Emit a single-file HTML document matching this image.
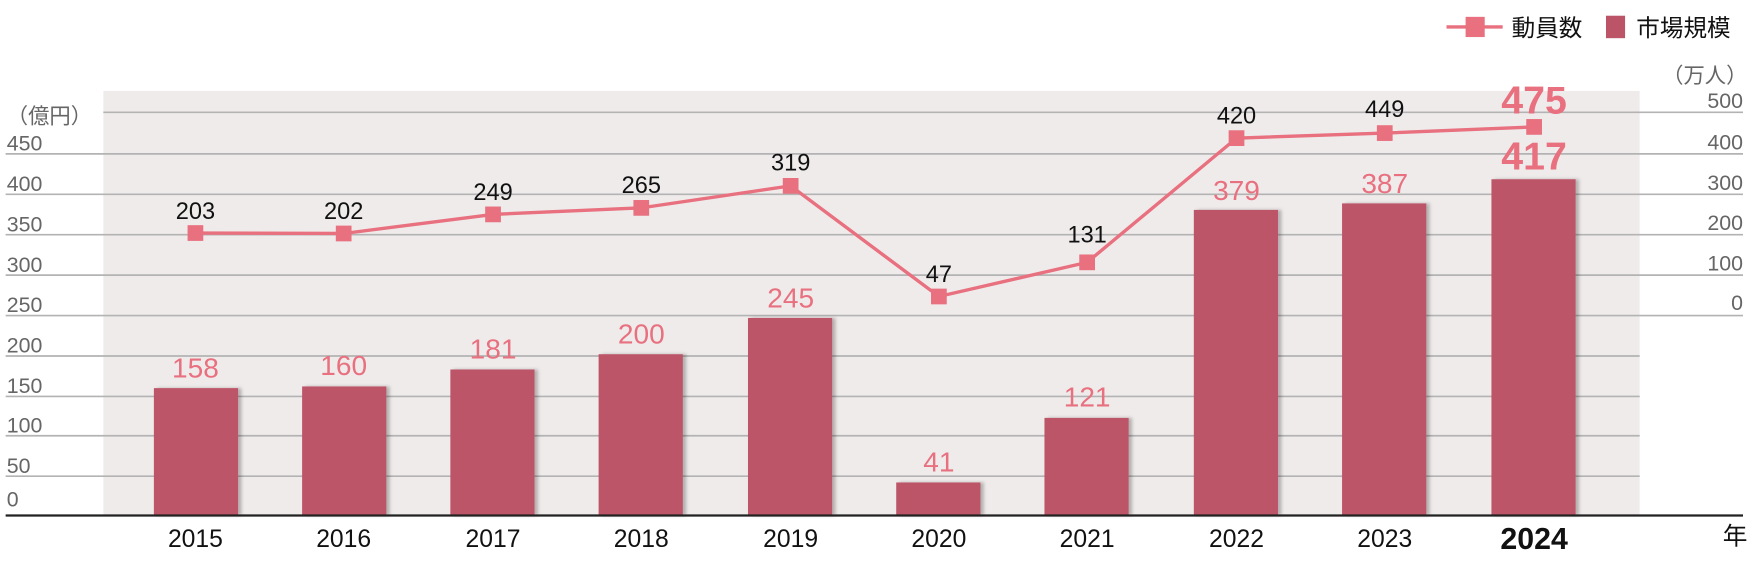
<!DOCTYPE html>
<html><head><meta charset="utf-8"><style>
html,body{margin:0;padding:0;background:#fff;}
svg{display:block}
text{font-family:"Liberation Sans","Noto Sans CJK JP",sans-serif;}
</style></head><body>
<svg width="1752" height="564" viewBox="0 0 1560 502.2" xmlns="http://www.w3.org/2000/svg">
<defs><filter id="sh" x="-10%" y="-10%" width="130%" height="120%"><feDropShadow dx="3" dy="0" stdDeviation="1.5" flood-color="#000" flood-opacity="0.25"/></filter></defs>
<rect x="92" y="81" width="1368" height="378" fill="#efebeb"/>
<g stroke="#b3b3b3" stroke-width="1.5">
<line x1="92" y1="100" x2="1552" y2="100"/>
<line x1="5" y1="137" x2="1552" y2="137"/>
<line x1="5" y1="173" x2="1552" y2="173"/>
<line x1="5" y1="209" x2="1552" y2="209"/>
<line x1="5" y1="245" x2="1552" y2="245"/>
<line x1="5" y1="281" x2="1552" y2="281"/>
<line x1="5" y1="317" x2="1460" y2="317"/>
<line x1="5" y1="353" x2="1460" y2="353"/>
<line x1="5" y1="388" x2="1460" y2="388"/>
<line x1="5" y1="424" x2="1460" y2="424"/>
</g>
<g fill="#666" font-size="19">
<text x="6" y="110">（億円）</text>
<text x="6" y="134">450</text><text x="6" y="170">400</text><text x="6" y="206">350</text><text x="6" y="242">300</text><text x="6" y="278">250</text><text x="6" y="314">200</text><text x="6" y="350">150</text><text x="6" y="385">100</text><text x="6" y="421">50</text><text x="6" y="451">0</text>
<g text-anchor="end"><text x="1556" y="74">（万人）</text>
<text x="1552" y="96">500</text><text x="1552" y="133">400</text><text x="1552" y="169">300</text><text x="1552" y="205">200</text><text x="1552" y="241">100</text><text x="1552" y="276">0</text></g>
</g>
<g fill="#bc5467" filter="url(#sh)">
<rect x="137" y="345.6" width="75" height="113.4"/>
<rect x="269" y="344.1" width="75" height="114.9"/>
<rect x="401" y="329.0" width="75" height="130"/>
<rect x="533" y="315.4" width="75" height="143.6"/>
<rect x="666" y="283.1" width="75" height="175.9"/>
<rect x="798" y="429.6" width="75" height="29.4"/>
<rect x="930" y="372.1" width="75" height="86.9"/>
<rect x="1063" y="186.9" width="75" height="272.1"/>
<rect x="1195" y="181.1" width="75" height="277.9"/>
<rect x="1328" y="159.6" width="75" height="299.4"/>
</g>
<line x1="5" y1="459" x2="1552" y2="459" stroke="#222" stroke-width="2"/>
<g font-size="25" fill="#e8707f" text-anchor="middle">
<text x="174" y="336">158</text><text x="306" y="334">160</text><text x="439" y="319">181</text><text x="571" y="306">200</text><text x="704" y="274">245</text><text x="836" y="420">41</text><text x="968" y="362">121</text><text x="1101" y="178">379</text><text x="1233" y="172">387</text>
<text x="1366" y="151" font-size="35" font-weight="bold">417</text>
<text x="1366" y="101" font-size="35" font-weight="bold">475</text>
</g>
<polyline fill="none" stroke="#e8707f" stroke-width="3" points="174,207.5 306,207.9 439,190.9 571,185.1 704,165.5 836,264 968,233.6 1101,123 1233,118.5 1366,113"/>
<g fill="#e8707f">
<rect x="167" y="200.5" width="14" height="14"/><rect x="299" y="200.9" width="14" height="14"/><rect x="432" y="183.9" width="14" height="14"/><rect x="564" y="178.1" width="14" height="14"/><rect x="697" y="158.5" width="14" height="14"/><rect x="829" y="257" width="14" height="14"/><rect x="961" y="226.6" width="14" height="14"/><rect x="1094" y="116" width="14" height="14"/><rect x="1226" y="111.5" width="14" height="14"/><rect x="1359" y="106" width="14" height="14"/>
</g>
<g font-size="21" fill="#111" text-anchor="middle">
<text x="174" y="195">203</text><text x="306" y="195">202</text><text x="439" y="178">249</text><text x="571" y="172">265</text><text x="704" y="152">319</text><text x="836" y="251">47</text><text x="968" y="216">131</text><text x="1101" y="110">420</text><text x="1233" y="104">449</text>
</g>
<g font-size="22" fill="#111" text-anchor="middle">
<text x="174" y="487">2015</text><text x="306" y="487">2016</text><text x="439" y="487">2017</text><text x="571" y="487">2018</text><text x="704" y="487">2019</text><text x="836" y="487">2020</text><text x="968" y="487">2021</text><text x="1101" y="487">2022</text><text x="1233" y="487">2023</text>
<text x="1366" y="489" font-size="27" font-weight="bold">2024</text>
<text x="1545" y="485">年</text>
</g>
<line x1="1288" y1="24" x2="1338" y2="24" stroke="#e8707f" stroke-width="3"/>
<rect x="1305" y="15" width="17" height="18" fill="#e8707f"/>
<text x="1346" y="32" font-size="21" fill="#111">動員数</text>
<rect x="1430" y="14" width="17" height="20" fill="#bc5467"/>
<text x="1457" y="32" font-size="21" fill="#111">市場規模</text>
</svg>
</body></html>
